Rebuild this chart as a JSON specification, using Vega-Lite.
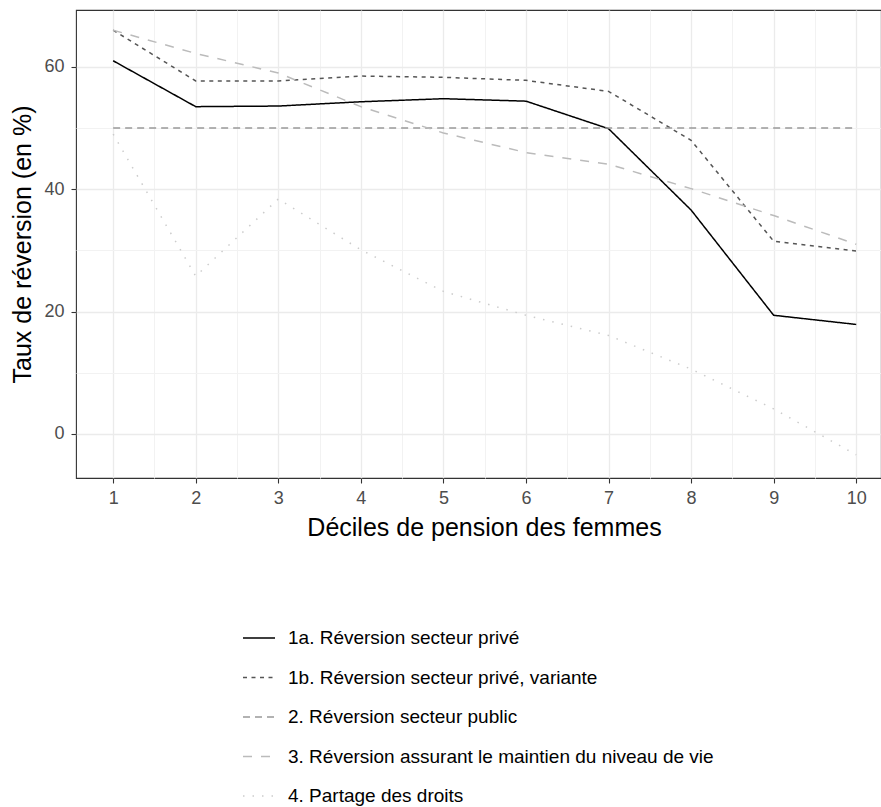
{
  "$schema": "https://vega.github.io/schema/vega-lite/v6.json",
  "autosize": {"type": "none"},
  "width": 805,
  "height": 468,
  "padding": {"left": 76, "top": 10, "right": 0, "bottom": 329},
  "background": "white",
  "config": {
    "font": "Liberation Sans",
    "view": {"stroke": "#333333", "strokeWidth": 1.1},
    "axis": {"domain": false}
  },
  "datasets": {
    "d": [
      {"decile": 1, "serie": "1a. Réversion secteur privé", "taux": 61.0},
      {"decile": 2, "serie": "1a. Réversion secteur privé", "taux": 53.5},
      {"decile": 3, "serie": "1a. Réversion secteur privé", "taux": 53.6},
      {"decile": 4, "serie": "1a. Réversion secteur privé", "taux": 54.3},
      {"decile": 5, "serie": "1a. Réversion secteur privé", "taux": 54.8},
      {"decile": 6, "serie": "1a. Réversion secteur privé", "taux": 54.4},
      {"decile": 7, "serie": "1a. Réversion secteur privé", "taux": 49.9},
      {"decile": 8, "serie": "1a. Réversion secteur privé", "taux": 36.6},
      {"decile": 9, "serie": "1a. Réversion secteur privé", "taux": 19.4},
      {"decile": 10, "serie": "1a. Réversion secteur privé", "taux": 17.9},
      {"decile": 1, "serie": "1b. Réversion secteur privé, variante", "taux": 66.0},
      {"decile": 2, "serie": "1b. Réversion secteur privé, variante", "taux": 57.7},
      {"decile": 3, "serie": "1b. Réversion secteur privé, variante", "taux": 57.7},
      {"decile": 4, "serie": "1b. Réversion secteur privé, variante", "taux": 58.5},
      {"decile": 5, "serie": "1b. Réversion secteur privé, variante", "taux": 58.3},
      {"decile": 6, "serie": "1b. Réversion secteur privé, variante", "taux": 57.8},
      {"decile": 7, "serie": "1b. Réversion secteur privé, variante", "taux": 56.0},
      {"decile": 8, "serie": "1b. Réversion secteur privé, variante", "taux": 48.0},
      {"decile": 9, "serie": "1b. Réversion secteur privé, variante", "taux": 31.5},
      {"decile": 10, "serie": "1b. Réversion secteur privé, variante", "taux": 29.9},
      {"decile": 1, "serie": "2. Réversion secteur public", "taux": 50},
      {"decile": 2, "serie": "2. Réversion secteur public", "taux": 50},
      {"decile": 3, "serie": "2. Réversion secteur public", "taux": 50},
      {"decile": 4, "serie": "2. Réversion secteur public", "taux": 50},
      {"decile": 5, "serie": "2. Réversion secteur public", "taux": 50},
      {"decile": 6, "serie": "2. Réversion secteur public", "taux": 50},
      {"decile": 7, "serie": "2. Réversion secteur public", "taux": 50},
      {"decile": 8, "serie": "2. Réversion secteur public", "taux": 50},
      {"decile": 9, "serie": "2. Réversion secteur public", "taux": 50},
      {"decile": 10, "serie": "2. Réversion secteur public", "taux": 50},
      {"decile": 1, "serie": "3. Réversion assurant le maintien du niveau de vie", "taux": 66.0},
      {"decile": 2, "serie": "3. Réversion assurant le maintien du niveau de vie", "taux": 62.2},
      {"decile": 3, "serie": "3. Réversion assurant le maintien du niveau de vie", "taux": 59.0},
      {"decile": 4, "serie": "3. Réversion assurant le maintien du niveau de vie", "taux": 53.5},
      {"decile": 5, "serie": "3. Réversion assurant le maintien du niveau de vie", "taux": 49.2},
      {"decile": 6, "serie": "3. Réversion assurant le maintien du niveau de vie", "taux": 46.0},
      {"decile": 7, "serie": "3. Réversion assurant le maintien du niveau de vie", "taux": 44.1},
      {"decile": 8, "serie": "3. Réversion assurant le maintien du niveau de vie", "taux": 40.1},
      {"decile": 9, "serie": "3. Réversion assurant le maintien du niveau de vie", "taux": 35.7},
      {"decile": 10, "serie": "3. Réversion assurant le maintien du niveau de vie", "taux": 31.0},
      {"decile": 1, "serie": "4. Partage des droits", "taux": 49.0},
      {"decile": 2, "serie": "4. Partage des droits", "taux": 25.8},
      {"decile": 3, "serie": "4. Partage des droits", "taux": 38.4},
      {"decile": 4, "serie": "4. Partage des droits", "taux": 30.1},
      {"decile": 5, "serie": "4. Partage des droits", "taux": 23.3},
      {"decile": 6, "serie": "4. Partage des droits", "taux": 19.4},
      {"decile": 7, "serie": "4. Partage des droits", "taux": 16.1},
      {"decile": 8, "serie": "4. Partage des droits", "taux": 10.6},
      {"decile": 9, "serie": "4. Partage des droits", "taux": 4.1},
      {"decile": 10, "serie": "4. Partage des droits", "taux": -3.4}
    ]
  },
  "data": {"name": "d"},
  "layer": [
    {
      "mark": {"type": "line", "opacity": 0},
      "encoding": {
        "x": {
          "field": "decile", "type": "quantitative",
          "scale": {"domain": [0.55, 10.3], "nice": false, "zero": false},
          "axis": {
            "orient": "top", "values": [1.5, 2.5, 3.5, 4.5, 5.5, 6.5, 7.5, 8.5, 9.5],
            "labels": false, "ticks": false, "title": null,
            "grid": true, "gridColor": "#f2f2f2", "gridWidth": 1
          }
        },
        "y": {
          "field": "taux", "type": "quantitative",
          "scale": {"domain": [-7.2, 69.3], "nice": false, "zero": false},
          "axis": {
            "orient": "right", "values": [10, 30, 50],
            "labels": false, "ticks": false, "title": null,
            "grid": true, "gridColor": "#f2f2f2", "gridWidth": 1
          }
        },
        "detail": {"field": "serie"}
      }
    },
    {
      "mark": {"type": "line", "strokeWidth": 1.5},
      "encoding": {
        "x": {
          "field": "decile", "type": "quantitative",
          "scale": {"domain": [0.55, 10.3], "nice": false, "zero": false},
          "axis": {
            "orient": "bottom", "values": [1, 2, 3, 4, 5, 6, 7, 8, 9, 10],
            "title": "Déciles de pension des femmes",
            "titleFontSize": 25, "titleFontWeight": "normal", "titleColor": "#000000",
            "titlePadding": 8, "titleX": 408,
            "labelFontSize": 18, "labelColor": "#4d4d4d", "labelPadding": 6,
            "ticks": true, "tickColor": "#333333", "tickSize": 5, "tickWidth": 1.1,
            "grid": true, "gridColor": "#ebebeb", "gridWidth": 1.3
          }
        },
        "y": {
          "field": "taux", "type": "quantitative",
          "scale": {"domain": [-7.2, 69.3], "nice": false, "zero": false},
          "axis": {
            "orient": "left", "values": [0, 20, 40, 60],
            "title": "Taux de réversion (en %)",
            "titleFontSize": 25, "titleFontWeight": "normal", "titleColor": "#000000",
            "titlePadding": 8,
            "labelFontSize": 18, "labelColor": "#4d4d4d", "labelPadding": 7,
            "ticks": true, "tickColor": "#333333", "tickSize": 5, "tickWidth": 1.1,
            "grid": true, "gridColor": "#ebebeb", "gridWidth": 1.3
          }
        },
        "color": {
          "field": "serie", "type": "nominal",
          "scale": {
            "domain": ["1a. Réversion secteur privé", "1b. Réversion secteur privé, variante", "2. Réversion secteur public", "3. Réversion assurant le maintien du niveau de vie", "4. Partage des droits"],
            "range": ["#000000", "#555555", "#999999", "#bbbbbb", "#cccccc"]
          },
          "legend": {
            "title": null, "orient": "none", "legendX": 166, "legendY": 611,
            "symbolType": "stroke", "symbolSize": 1024, "symbolStrokeWidth": 1.5,
            "labelFontSize": 19, "labelColor": "#000000", "labelOffset": 12,
            "rowPadding": 12.5, "labelLimit": 700
          }
        },
        "strokeDash": {
          "field": "serie", "type": "nominal",
          "scale": {
            "domain": ["1a. Réversion secteur privé", "1b. Réversion secteur privé, variante", "2. Réversion secteur public", "3. Réversion assurant le maintien du niveau de vie", "4. Partage des droits"],
            "range": [[1, 0], [4, 4.5], [7, 5], [9, 9], [1.5, 8]]
          },
          "legend": {
            "title": null, "orient": "none", "legendX": 166, "legendY": 611,
            "symbolType": "stroke", "symbolSize": 1024, "symbolStrokeWidth": 1.5,
            "labelFontSize": 19, "labelColor": "#000000", "labelOffset": 12,
            "rowPadding": 12.5, "labelLimit": 700
          }
        }
      }
    }
  ],
  "resolve": {"axis": {"x": "independent", "y": "independent"}}
}
